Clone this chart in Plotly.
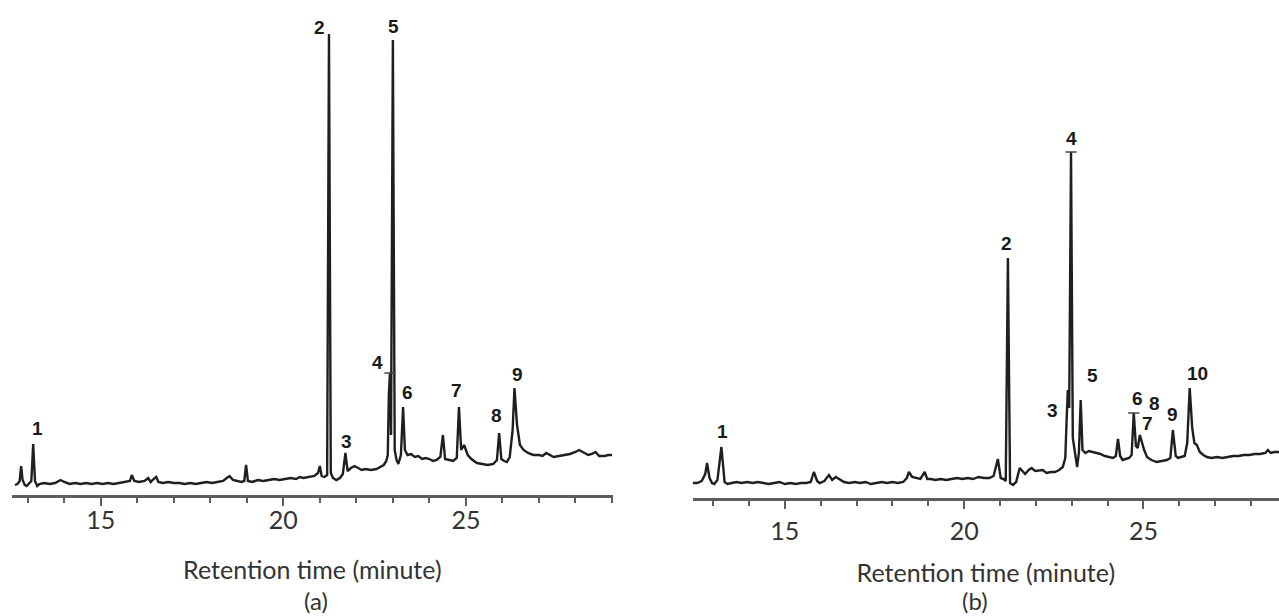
import plotly.graph_objects as go

# ---------------- data (retention time in minutes, detector response in arbitrary units) -------------
TIME_A = [12.65, 12.72, 12.78, 12.82, 12.86, 12.92, 12.97, 13.03, 13.10, 13.15, 13.20, 13.26, 13.32, 13.45,
          13.60, 13.75, 13.90, 14.00, 14.15, 14.30, 14.45, 14.60, 14.75, 14.90, 15.05, 15.20, 15.35, 15.50,
          15.65, 15.80, 15.85, 15.92, 16.05, 16.20, 16.30, 16.37, 16.45, 16.52, 16.58, 16.70, 16.85, 17.00,
          17.15, 17.30, 17.45, 17.60, 17.75, 17.90, 18.05, 18.20, 18.35, 18.45, 18.53, 18.62, 18.72, 18.85,
          18.93, 18.98, 19.03, 19.15, 19.30, 19.45, 19.60, 19.75, 19.90, 20.05, 20.20, 20.35, 20.45, 20.55,
          20.70, 20.85, 20.95, 21.00, 21.05, 21.12, 21.20, 21.25, 21.30, 21.36, 21.45, 21.55, 21.63, 21.70,
          21.76, 21.85, 21.95, 22.05, 22.15, 22.25, 22.40, 22.55, 22.65, 22.75, 22.82, 22.86, 22.89, 22.92,
          22.95, 23.00, 23.05, 23.10, 23.15, 23.22, 23.28, 23.33, 23.40, 23.50, 23.60, 23.70, 23.80, 23.90,
          24.00, 24.10, 24.20, 24.30, 24.37, 24.43, 24.55, 24.65, 24.75, 24.81, 24.87, 24.95, 25.05, 25.15,
          25.30, 25.45, 25.60, 25.75, 25.85, 25.91, 25.97, 26.05, 26.12, 26.20, 26.28, 26.33, 26.40, 26.48,
          26.58, 26.70, 26.85, 27.00, 27.10, 27.20, 27.30, 27.40, 27.55, 27.70, 27.85, 28.00, 28.10, 28.20,
          28.35, 28.45, 28.55, 28.65, 28.80, 28.90, 29.00]
SIGNAL_A = [10, 11, 14, 29, 15, 10, 9, 11, 14, 51, 14, 9, 11, 12,
            11, 12, 15, 13, 11, 12, 11, 12, 11, 12, 11, 12, 11, 12,
            13, 14, 20, 14, 13, 14, 17, 13, 16, 18, 13, 12, 13, 12,
            12, 11, 12, 11, 12, 13, 12, 13, 14, 17, 19, 15, 14, 13,
            14, 30, 14, 13, 15, 14, 15, 16, 15, 16, 17, 16, 18, 17,
            18, 19, 22, 29, 19, 18, 20, 461, 22, 17, 15, 17, 21, 42,
            24, 27, 29, 27, 25, 26, 25, 26, 28, 30, 34, 40, 100, 122,
            60, 455, 45, 35, 31, 40, 88, 45, 40, 41, 38, 39, 36, 37,
            36, 34, 35, 38, 60, 36, 35, 34, 37, 88, 45, 50, 40, 36,
            32, 31, 30, 31, 35, 62, 36, 34, 33, 38, 65, 107, 70, 50,
            45, 42, 40, 40, 39, 42, 40, 38, 39, 40, 41, 43, 45, 43,
            40, 41, 43, 39, 39, 40, 40]

TIME_B = [12.43, 12.55, 12.68, 12.78, 12.83, 12.90, 12.97, 13.03, 13.12, 13.23, 13.32, 13.40, 13.52, 13.65,
          13.80, 13.95, 14.10, 14.25, 14.40, 14.55, 14.70, 14.85, 15.00, 15.15, 15.30, 15.45, 15.60, 15.72,
          15.81, 15.90, 15.97, 16.10, 16.23, 16.32, 16.42, 16.53, 16.65, 16.80, 16.95, 17.10, 17.25, 17.40,
          17.55, 17.70, 17.85, 18.00, 18.15, 18.30, 18.40, 18.46, 18.55, 18.68, 18.78, 18.90, 18.97, 19.07,
          19.20, 19.35, 19.50, 19.65, 19.80, 19.95, 20.10, 20.25, 20.40, 20.55, 20.70, 20.82, 20.94, 21.02,
          21.10, 21.16, 21.22, 21.28, 21.36, 21.45, 21.55, 21.60, 21.70, 21.80, 21.88, 21.98, 22.10, 22.19,
          22.30, 22.42, 22.53, 22.65, 22.75, 22.82, 22.86, 22.89, 22.93, 22.98, 23.03, 23.10, 23.15, 23.20,
          23.25, 23.30, 23.38, 23.48, 23.59, 23.70, 23.80, 23.92, 24.05, 24.15, 24.23, 24.29, 24.35, 24.42,
          24.50, 24.60, 24.67, 24.73, 24.79, 24.84, 24.90, 24.96, 25.02, 25.10, 25.22, 25.37, 25.50, 25.65,
          25.75, 25.82, 25.90, 25.96, 26.05, 26.15, 26.22, 26.29, 26.36, 26.42, 26.49, 26.57, 26.67, 26.77,
          26.90, 27.05, 27.20, 27.35, 27.50, 27.65, 27.80, 27.95, 28.10, 28.25, 28.40, 28.47, 28.55, 28.65,
          28.78]
SIGNAL_B = [15, 15, 17, 24, 35, 20, 15, 14, 18, 51, 16, 14, 15, 16,
            15, 16, 15, 16, 15, 14, 15, 16, 14, 15, 14, 15, 15, 16,
            26, 17, 15, 17, 23, 18, 21, 19, 16, 15, 16, 15, 16, 14,
            15, 16, 15, 16, 15, 16, 20, 26, 21, 20, 19, 26, 19, 19,
            18, 19, 18, 19, 20, 19, 20, 19, 21, 20, 20, 22, 39, 20,
            19, 17, 240, 15, 13, 16, 30, 28, 24, 28, 30, 27, 28, 28,
            25, 26, 26, 28, 31, 40, 80, 108, 90, 346, 60, 40, 31, 45,
            98, 48, 45, 47, 46, 45, 44, 42, 41, 40, 42, 59, 42, 38,
            39, 40, 43, 85, 52, 50, 63, 55, 48, 41, 38, 36, 37, 38,
            40, 68, 42, 40, 41, 42, 55, 110, 70, 55, 53, 46, 43, 41,
            40, 41, 40, 41, 42, 42, 43, 43, 44, 44, 45, 48, 45, 46,
            46]

# small horizontal marks drawn at some peak apexes in the original
MARK_TIME_A = [22.92]
MARK_SIGNAL_A = [122]
MARK_TIME_B = [22.98, 24.73]
MARK_SIGNAL_B = [346, 85]

# peak numbers (label text, retention time, height of label)
PEAK_LABELS_A = ["1", "2", "3", "4", "5", "6", "7", "8", "9"]
PEAK_LABEL_T_A = [13.27, 21.00, 21.72, 22.59, 23.03, 23.41, 24.73, 25.85, 26.40]
PEAK_LABEL_Y_A = [67, 467, 54, 133, 468, 103, 105, 80, 121]

PEAK_LABELS_B = ["1", "2", "3", "4", "5", "6", "7", "8", "9", "10"]
PEAK_LABEL_T_B = [13.27, 21.19, 22.45, 22.98, 23.59, 24.82, 25.12, 25.32, 25.82, 26.52]
PEAK_LABEL_Y_B = [67, 255, 88, 360, 123, 100, 75, 95, 84, 125]

TICK_VALUES = [15, 20, 25]
TICK_TEXT = ["15", "20", "25"]
X_TITLE = "Retention time (minute)"
PANEL_NAMES = ["(a)", "(b)"]

# ---------------- figure ----------------
W, H = 1279, 616
LINE_COLOR = "#1f1f1f"
AXIS_COLOR = "#5e5e5e"
TEXT_COLOR = "#333333"
FONT = "Lato, 'Open Sans', sans-serif"
LABEL_FONT = "'Liberation Sans Narrow', 'Liberation Sans', Arial, sans-serif"
Y_MAX = 490  # one response unit per pixel

fig = go.Figure()

fig.add_trace(go.Scatter(x=TIME_A, y=SIGNAL_A, mode="lines", xaxis="x", yaxis="y",
                         line=dict(color=LINE_COLOR, width=2.4), hoverinfo="skip", showlegend=False))
fig.add_trace(go.Scatter(x=TIME_B, y=SIGNAL_B, mode="lines", xaxis="x2", yaxis="y2",
                         line=dict(color=LINE_COLOR, width=2.4), hoverinfo="skip", showlegend=False))
fig.add_trace(go.Scatter(x=MARK_TIME_A, y=MARK_SIGNAL_A, mode="markers", xaxis="x", yaxis="y",
                         marker=dict(symbol="line-ew", size=8, line=dict(color="#444", width=1.5)),
                         hoverinfo="skip", showlegend=False))
fig.add_trace(go.Scatter(x=MARK_TIME_B, y=MARK_SIGNAL_B, mode="markers", xaxis="x2", yaxis="y2",
                         marker=dict(symbol="line-ew", size=8, line=dict(color="#444", width=1.5)),
                         hoverinfo="skip", showlegend=False))

def px_x(p):
    return p / W

def px_y(p):
    return (H - p) / H

def make_xaxis(label_shift, title_standoff):
    return dict(
        showline=True, linecolor=AXIS_COLOR, linewidth=3, mirror=False,
        showgrid=False, zeroline=False,
        ticks="outside", tickcolor=AXIS_COLOR, tickwidth=1.5, ticklen=8,
        tickmode="array", tickvals=TICK_VALUES, ticktext=TICK_TEXT,
        tickfont=dict(family=FONT, size=25, color=TEXT_COLOR),
        ticklabelstandoff=label_shift,
        minor=dict(dtick=1, tick0=0, ticks="outside", ticklen=5, tickcolor=AXIS_COLOR, tickwidth=1.5,
                   showgrid=False),
        title=dict(text=X_TITLE, font=dict(family=FONT, size=25, color=TEXT_COLOR), standoff=title_standoff),
        fixedrange=True,
    )

fig.update_layout(
    width=W, height=H,
    margin=dict(l=0, r=0, t=0, b=0),
    paper_bgcolor="white", plot_bgcolor="white",
    xaxis=dict(make_xaxis(-7, 29), domain=[px_x(12), px_x(612.7)], range=[12.57, 29.02], anchor="y"),
    xaxis2=dict(make_xaxis(1, 21), domain=[px_x(692.7), 1.0], range=[12.43, 28.78], anchor="y2"),
    yaxis=dict(visible=False, range=[0, Y_MAX], domain=[px_y(495), px_y(495 - Y_MAX)], anchor="x",
               fixedrange=True),
    yaxis2=dict(visible=False, range=[0, Y_MAX], domain=[px_y(498), px_y(498 - Y_MAX)], anchor="x2",
                fixedrange=True),
)

annotations = []
for txt, t, y in zip(PEAK_LABELS_A, PEAK_LABEL_T_A, PEAK_LABEL_Y_A):
    annotations.append(dict(x=t, y=y, xref="x", yref="y", text=f"<b>{txt}</b>", showarrow=False,
                            xanchor="center", yanchor="middle",
                            font=dict(family=LABEL_FONT, size=19, color="#1a1a1a")))
for txt, t, y in zip(PEAK_LABELS_B, PEAK_LABEL_T_B, PEAK_LABEL_Y_B):
    annotations.append(dict(x=t, y=y, xref="x2", yref="y2", text=f"<b>{txt}</b>", showarrow=False,
                            xanchor="center", yanchor="middle",
                            font=dict(family=LABEL_FONT, size=19, color="#1a1a1a")))
annotations.append(dict(x=px_x(316), y=px_y(600), xref="paper", yref="paper", text=PANEL_NAMES[0],
                        xanchor="center", yanchor="middle",
                        showarrow=False, font=dict(family=FONT, size=24, color=TEXT_COLOR)))
annotations.append(dict(x=px_x(975), y=px_y(600), xref="paper", yref="paper", text=PANEL_NAMES[1],
                        xanchor="center", yanchor="middle",
                        showarrow=False, font=dict(family=FONT, size=24, color=TEXT_COLOR)))
fig.update_layout(annotations=annotations)

# remove the default page margin so the figure sits at the window's top-left corner
fig.write_html("out.html", config={"displayModeBar": False},
               post_script="document.body.style.margin='0px';")
